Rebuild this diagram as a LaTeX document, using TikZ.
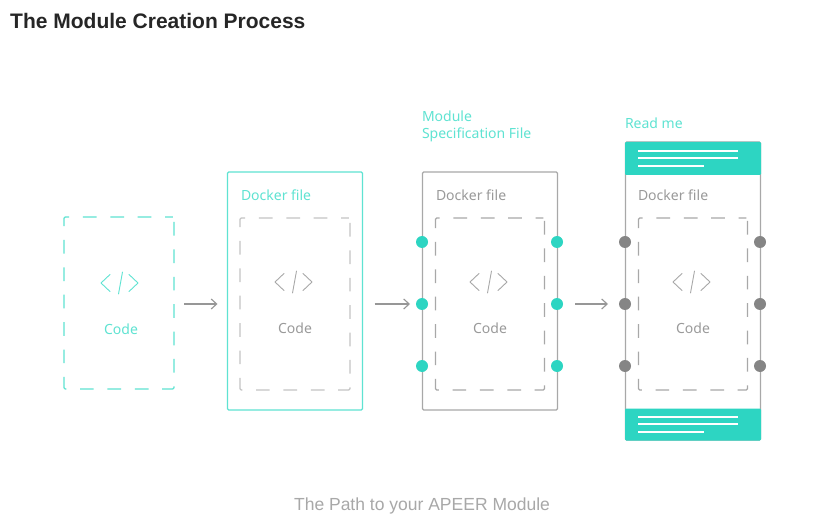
\documentclass[tikz,border=0pt]{standalone}
\usepackage{fontspec}
\setmainfont{Noto Sans}
\newfontfamily\titlefont{Liberation Sans}
\definecolor{teal1}{HTML}{5FE3D2}
\definecolor{teal2}{HTML}{2DD5C2}
\definecolor{gray1}{HTML}{A8A8A8}
\definecolor{gray2}{HTML}{C4C4C4}
\definecolor{gray3}{HTML}{858585}
\definecolor{txt}{HTML}{9A9A9A}
\tikzset{
  pxbox/.style={rectangle,inner sep=0pt,outer sep=0pt,rounded corners=1.2pt},
  solidbox/.style={pxbox,line width=1.2pt},
  dashbox/.style={pxbox,line width=1.2pt,dash pattern=on 13.7pt off 13.7pt,dash phase=6pt},
  lbl/.style={inner sep=0pt,outer sep=0pt,font=\fontsize{14}{18}\selectfont,align=left},
  port/.style={circle,inner sep=0pt,minimum size=12pt},
  flow/.style={line width=1.3pt,draw=gray3!85,-{Straight Barb[length=5.5pt,width=10pt,line width=1.1pt]}},
  codeglyph/.style={line width=.9pt,line cap=round,line join=round},
  whiteline/.style={draw=white,line width=1.1pt}
}
\usetikzlibrary{arrows.meta}
\newcommand{\codeicon}[3]{%
  \draw[codeglyph,draw=#3] (#1-14,#2-8.5)--(#1-23,#2)--(#1-14,#2+8.5);
  \draw[codeglyph,draw=#3] (#1+5,#2-8.5)--(#1+14,#2)--(#1+5,#2+8.5);
  \draw[codeglyph,draw=#3] (#1-5.5,#2+11)--(#1-1.5,#2-11);}
\newcommand{\pxrect}[4]{at ({(#1+#3)/2},{(#2+#4)/2})}
\begin{document}
\begin{tikzpicture}[x=1pt,y=-1pt]
\useasboundingbox (0,0) rectangle (829,526);
\fill[white] (0,0) rectangle (829,526);
\node[anchor=base west,inner sep=0pt,font=\titlefont\bfseries\fontsize{21}{24}\selectfont,text=black!85] (title) at (10,29) {The Module Creation Process};
% box 1
\node[dashbox,draw=teal1,minimum width=110pt,minimum height=172pt] (b1) at (119,303) {};
\node[lbl,text=teal1] (c1) at (121,329) {Code};
\codeicon{124}{283}{teal1}
% box 2
\node[solidbox,draw=teal1,minimum width=135pt,minimum height=238pt] (b2) at (295,291) {};
\node[dashbox,draw=gray2,minimum width=110pt,minimum height=172pt] (d2) at (295,304) {};
\node[lbl,text=teal1,anchor=base west] (l2) at (241,201) {Docker file};
\node[lbl,text=txt] (c2) at (295,328) {Code};
\codeicon{298}{282}{gray1}
% box 3
\node[solidbox,draw=gray1,minimum width=135pt,minimum height=238pt] (b3) at (490,291) {};
\node[dashbox,draw=gray1,minimum width=109pt,minimum height=172pt] (d3) at (490,304) {};
\node[lbl,text=txt,anchor=base west] (l3) at (436,201) {Docker file};
\node[lbl,text=txt] (c3) at (490,328) {Code};
\codeicon{493}{282}{gray1}
\node[lbl,text=teal1,anchor=base west,font=\fontsize{14}{18}\selectfont] (m3) at (422,139) {Module\\[-.1pt]Specification File};
\foreach \n/\yy in {a/242,b/304,c/366}{
  \node[port,fill=teal2] (p3l\n) at (422,\yy) {};
  \node[port,fill=teal2] (p3r\n) at (557,\yy) {};
}
% box 4
\node[solidbox,draw=gray1,minimum width=135pt,minimum height=298pt] (b4) at (693,291) {};
\node[pxbox,fill=teal2,minimum width=136pt,minimum height=33pt] (h4) at (693,158.5) {};
\node[pxbox,fill=teal2,minimum width=136pt,minimum height=32pt] (f4) at (693,424.5) {};
\foreach \yy/\xe in {151/738,158/738,166/704,417/738,424/738,432/704}{
  \draw[whiteline] (638,\yy)--(\xe,\yy);
}
\node[dashbox,draw=gray1,minimum width=109pt,minimum height=172pt] (d4) at (693,304) {};
\node[lbl,text=txt,anchor=base west] (l4) at (638,201) {Docker file};
\node[lbl,text=txt] (c4) at (693,328) {Code};
\codeicon{696}{282}{gray1}
\node[lbl,text=teal1,anchor=base west] (m4) at (625,129) {Read me};
\foreach \n/\yy in {a/242,b/304,c/366}{
  \node[port,fill=gray3] (p4l\n) at (625,\yy) {};
  \node[port,fill=gray3] (p4r\n) at (760,\yy) {};
}
% arrows
\coordinate (s1) at (b1.east |- 0,304);
\coordinate (e1) at (b2.west |- 0,304);
\draw[flow,shorten <=10pt,shorten >=10pt] (s1)--(e1);
\draw[flow,shorten <=12pt,shorten >=12pt] (b2.east |- p3lb) -- (p3lb.center);
\draw[flow,shorten <=18pt,shorten >=17pt] (p3rb.center) -- (p4lb.center);
\node[inner sep=0pt,font=\fontsize{17.5}{20}\selectfont\sffamily,text=gray1] (cap) at (422,506) {\setmainfont{Liberation Sans}\selectfont The Path to your APEER Module};
\end{tikzpicture}
\end{document}
